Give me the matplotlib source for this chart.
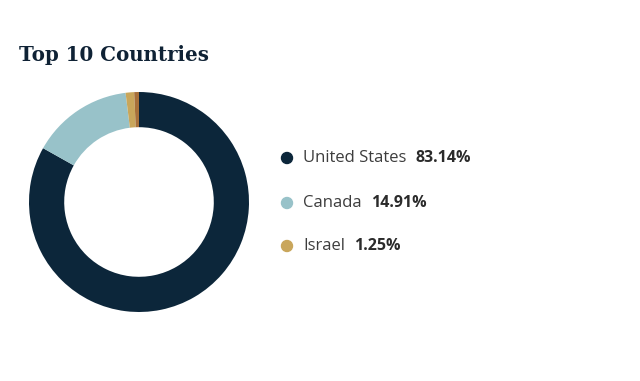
import matplotlib
matplotlib.use("Agg")
import matplotlib.pyplot as plt

countries = ["United States", "Canada", "Israel", "Other"]
shares = [83.14, 14.91, 1.25, 0.70]
colors = ["#0c263a", "#98c2c9", "#c9a65b", "#a8703a"]
legend_n = 3

W, H = 640, 381
fig = plt.figure(figsize=(W / 100, H / 100), dpi=100)
fig.patch.set_facecolor("white")

cx, cy, r = 139, 202, 110
ax = fig.add_axes([(cx - r) / W, (H - cy - r) / H, 2 * r / W, 2 * r / H])
ax.pie(shares, colors=colors, startangle=90, counterclock=False,
       radius=1.0, wedgeprops=dict(width=0.32, linewidth=0))
ax.set_xlim(-1, 1)
ax.set_ylim(-1, 1)
ax.set_aspect("equal")
ax.axis("off")

fig.text(19 / W, 1 - 55 / H, "Top 10 Countries", fontsize=14.3,
         fontweight="bold", family="DejaVu Serif", color="#0f2235",
         va="center", ha="left")

ys = [158, 203, 246]
for i in range(legend_n):
    y = 1 - ys[i] / H
    fig.patches.append(matplotlib.patches.Ellipse((287 / W, y), 11 / W, 11 / H,
                       transform=fig.transFigure, color=colors[i]))
    t = fig.text(303 / W, y, countries[i], fontsize=12, family="Open Sans",
                 color="#3d3d3d", va="center", ha="left")
    fig.canvas.draw()
    bb = t.get_window_extent()
    fig.text((bb.x1 + 9) / W, y, f"{shares[i]:.2f}%", fontsize=11.5,
             family="Open Sans", fontweight="bold", color="#2b2b2b",
             va="center", ha="left")

fig.savefig("out.png", dpi=100, facecolor="white")
